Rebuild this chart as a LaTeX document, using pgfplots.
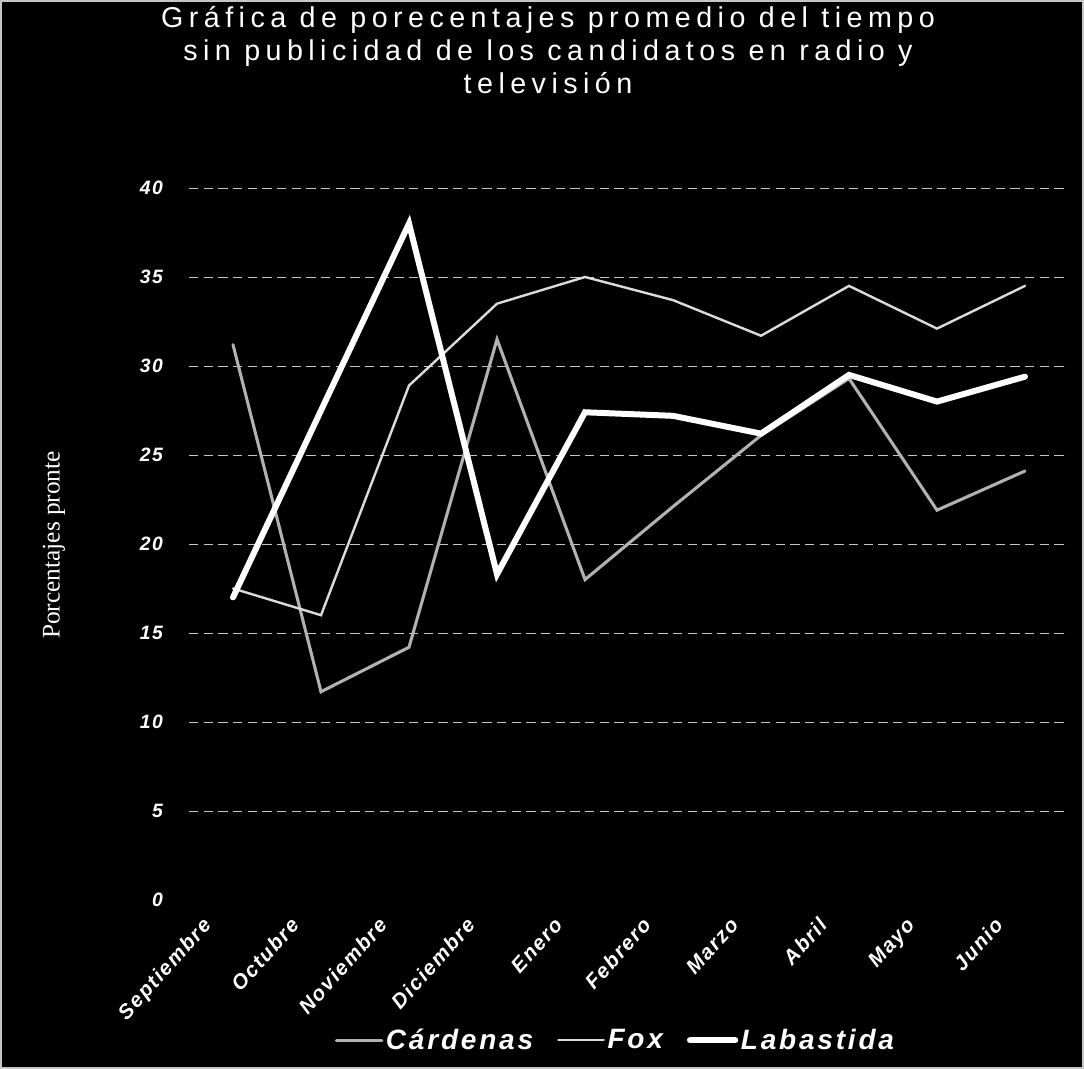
\documentclass[border=0pt]{standalone}
\usepackage{fontspec}
\setmainfont{Liberation Sans}
\newfontfamily\titlefont[LetterSpace=19]{Liberation Sans}
\newfontfamily\tickfont[LetterSpace=8]{Liberation Sans}
\newfontfamily\legfont[LetterSpace=10]{Liberation Sans}
\newfontfamily\ylabfont{Liberation Serif}
\usepackage{pgfplots}
\pgfplotsset{compat=1.18}
\definecolor{cardcol}{gray}{0.70}
\definecolor{foxcol}{gray}{0.86}
\begin{document}
\begin{tikzpicture}
\useasboundingbox (0,0) rectangle (813pt,801.75pt);
\fill[black] (0,0) rectangle (813pt,801.75pt);
\draw[gray!45, line width=3pt] (0,0) rectangle (813pt,801.75pt);
\node[text=white, align=center, font=\titlefont\fontsize{21.5}{24.75}\selectfont] at (411pt,764.25pt)
  {Gráfica de porecentajes promedio del tiempo\\sin publicidad de los candidatos en radio y\\televisión};
\node[text=white, rotate=90, font=\ylabfont\fontsize{19}{21}\selectfont] at (40.5pt,393pt) {Porcentajes pronte};
\begin{axis}[
  at={(141.75pt,126.75pt)}, anchor=south west,
  scale only axis, width=660pt, height=534pt,
  xmin=-0.5, xmax=9.5, ymin=0, ymax=40,
  axis line style={draw=none},
  tick style={draw=none},
  xtick={0,...,9},
  xticklabels={Septiembre,Octubre,Noviembre,Diciembre,Enero,Febrero,Marzo,Abril,Mayo,Junio},
  ytick={5,10,...,40},
  extra y ticks={0},
  extra y tick style={grid=none},
  /pgf/number format/assume math mode=true,
  ymajorgrids,
  major grid style={gray!45, line width=0.7pt, dash pattern=on 7pt off 4pt},
  yticklabel style={text=white, font=\tickfont\bfseries\itshape\fontsize{14.5}{16}\selectfont, xshift=-16pt},
  xticklabel style={text=white, font=\tickfont\bfseries\itshape\fontsize{15.5}{17}\selectfont,
     inner sep=0pt, xshift=-24pt, yshift=-12pt, rotate=48, anchor=north east},
  legend style={at={(0.485,-0.197)}, anchor=center, draw=none, fill=none, text=white,
     font=\legfont\bfseries\itshape\fontsize{21}{24}\selectfont, legend columns=3,
     /tikz/every even column/.append style={column sep=16pt}},
  legend image code/.code={\draw[#1] (0pt,0pt) -- (34pt,0pt);},
]
\addplot[cardcol, line width=2.3pt, line cap=round] coordinates {
 (0,31.2) (1,11.7) (2,14.2) (3,31.5) (4,18.0) (5,22.1) (6,26.1) (7,29.3) (8,21.9) (9,24.1)};
\addlegendentry{Cárdenas}
\addplot[foxcol, line width=1.8pt, line cap=round] coordinates {
 (0,17.5) (1,16.0) (2,28.9) (3,33.5) (4,35.0) (5,33.7) (6,31.7) (7,34.5) (8,32.1) (9,34.5)};
\addlegendentry{Fox}
\addplot[white, line width=4.5pt, line cap=round] coordinates {
 (0,17.0) (1,27.5) (2,38.0) (3,18.3) (4,27.4) (5,27.2) (6,26.2) (7,29.5) (8,28.0) (9,29.4)};
\addlegendentry{Labastida}
\end{axis}
\end{tikzpicture}
\end{document}
